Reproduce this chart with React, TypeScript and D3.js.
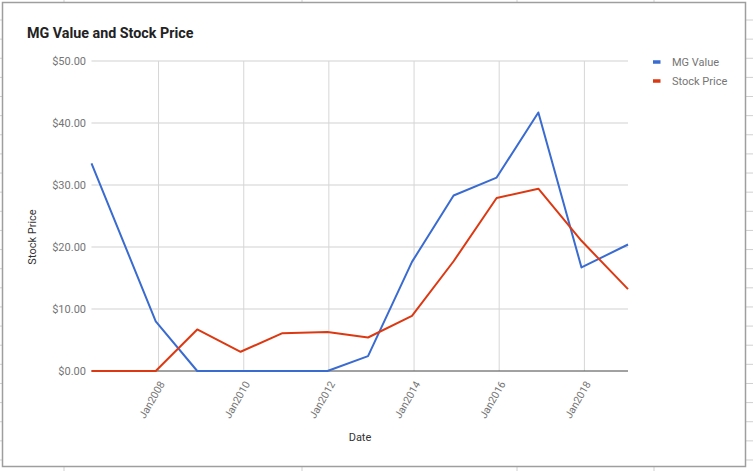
import React from "react";
import * as d3 from "d3";

const dates: string[] = [
  "2006-06-05", "2007-12-08", "2008-11-28", "2009-12-05", "2010-11-29", "2011-12-20",
  "2012-12-02", "2013-12-14", "2014-12-06", "2015-12-10", "2016-12-02", "2017-12-07", "2019-01-10",
];
const mgValue: number[] = [33.5, 8.0, 0, 0, 0, 0, 2.4, 17.6, 28.3, 31.2, 41.7, 16.7, 20.4];
const stockPrice: number[] = [0, 0, 6.7, 3.1, 6.1, 6.3, 5.4, 8.9, 17.7, 27.9, 29.4, 21.0, 13.2];
const yTicks: number[] = [0, 10, 20, 30, 40, 50];
const xTickYears: number[] = [2008, 2010, 2012, 2014, 2016, 2018];
const seriesNames: string[] = ["MG Value", "Stock Price"];
const colors: string[] = ["#3a6bd0", "#dc3912"];

const W = 753;
const H = 471;
const FONT = "Roboto, 'Noto Sans', Arial, sans-serif";

export default function App() {
  const parsed = dates.map((d) => new Date(d + "T00:00:00"));
  const x = d3.scaleTime().domain([parsed[0], parsed[parsed.length - 1]]).range([91.5, 628]);
  const y = d3.scaleLinear().domain([0, 50]).range([371, 61]);
  const series = [mgValue, stockPrice];
  const line = d3
    .line<[Date, number]>()
    .x((d) => x(d[0]))
    .y((d) => y(d[1]));
  const fmt = d3.format("$,.2f");
  const rowTicks = d3.range(0, 24).map((k) => 20 + k * 19.13);
  const colTicks = [64, 302, 517, 654];

  return (
    <svg
      width={W}
      height={H}
      style={{ position: "absolute", left: 0, top: 0, background: "#fff" }}
      fontFamily={FONT}
    >
      <rect x={0} y={0} width={W} height={H} fill="#fff" />
      {/* spreadsheet gridline stubs outside the chart frame */}
      {rowTicks.map((ty, i) => (
        <g key={"r" + i}>
          <line x1={0} x2={2} y1={ty} y2={ty} stroke="#d0d0d0" />
          <line x1={746} x2={753} y1={ty} y2={ty} stroke="#d0d0d0" />
        </g>
      ))}
      {colTicks.map((tx, i) => (
        <g key={"c" + i}>
          <line x1={tx} x2={tx} y1={0} y2={2} stroke="#d0d0d0" />
          <line x1={tx} x2={tx} y1={467} y2={471} stroke="#d0d0d0" />
        </g>
      ))}
      <rect x={2.5} y={2.5} width={743} height={464} fill="#fff" stroke="#9e9e9e" strokeWidth={1.5} />

      <text x={27} y={38} fontSize={14.3} fontWeight="bold" fill="#222">
        MG Value and Stock Price
      </text>

      {/* horizontal gridlines */}
      {yTicks.map((t) => (
        <g key={"y" + t}>
          {t !== 0 && (
            <line x1={91.5} x2={628} y1={y(t)} y2={y(t)} stroke="#e0e0e0" strokeWidth={1.5} />
          )}
          <text x={86} y={y(t)} dy="0.35em" textAnchor="end" fontSize={11} fill="#757575">
            {fmt(t)}
          </text>
        </g>
      ))}
      {/* vertical gridlines */}
      {xTickYears.map((yr) => {
        const xv = x(new Date(yr, 0, 1));
        return (
          <g key={"x" + yr}>
            <line x1={xv} x2={xv} y1={61} y2={371} stroke="#d6d6d6" strokeWidth={1} />
            <text
              transform={`translate(${xv + 3.5},${382}) rotate(-60)`}
              textAnchor="end"
              dy="0.35em"
              fontSize={10.5}
              fill="#757575"
            >
              {d3.timeFormat("Jan%Y")(new Date(yr, 0, 1))}
            </text>
          </g>
        );
      })}
      <line x1={91.5} x2={628} y1={y(0)} y2={y(0)} stroke="#444" strokeWidth={1} />

      {series.map((vals, si) => (
        <path
          key={"s" + si}
          d={line(parsed.map((d, i) => [d, vals[i]] as [Date, number])) || ""}
          fill="none"
          stroke={colors[si]}
          strokeWidth={2}
          strokeLinejoin="round"
        />
      ))}

      {/* axis titles */}
      <text x={360} y={437} dy="0.35em" textAnchor="middle" fontSize={11} fill="#333">
        Date
      </text>
      <text
        transform={`translate(32,237) rotate(-90)`}
        textAnchor="middle"
        dy="0.35em"
        fontSize={11}
        fill="#333"
      >
        Stock Price
      </text>

      {/* legend */}
      {seriesNames.map((name, i) => (
        <g key={"l" + i} transform={`translate(653,${62 + i * 19})`}>
          <rect x={0} y={-1.75} width={7.5} height={3.5} fill={colors[i]} />
          <text x={19} y={0} dy="0.35em" fontSize={11} fill="#757575">
            {name}
          </text>
        </g>
      ))}
    </svg>
  );
}
